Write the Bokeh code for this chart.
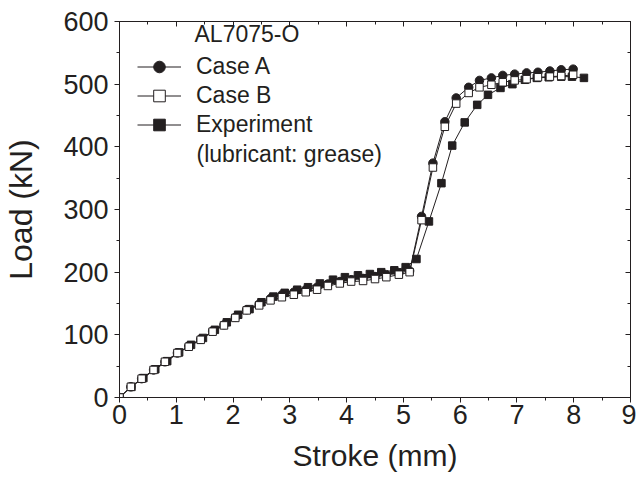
from bokeh.plotting import figure
from bokeh.models import (LinearAxis, Legend, LegendItem, Label, Range1d,
                          ColumnDataSource, SingleIntervalTicker,
                          CustomJSTickFormatter)
from bokeh.embed import file_html
from bokeh.resources import INLINE

FONT = "Liberation Sans"
INK = "#231f20"

# ---- data ----
stroke_sim = [0.00, 0.20, 0.39, 0.60, 0.80, 1.02, 1.22, 1.43, 1.64, 1.84,
              2.04, 2.24, 2.46, 2.66, 2.86, 3.07, 3.28, 3.48, 3.67, 3.88,
              4.08, 4.29, 4.50, 4.70, 4.92, 5.11, 5.32, 5.52, 5.73, 5.93,
              6.15, 6.34, 6.55, 6.75, 6.96, 7.17, 7.37, 7.58, 7.78, 7.99]
load_case_a = [0, 17, 30, 44, 57, 71, 82, 93, 106, 116,
               128, 140, 149, 158, 164, 168, 172, 176, 181, 185,
               188, 190, 193, 196, 199, 202, 289, 374, 440, 478,
               495, 506, 510, 514, 516, 518, 519, 521, 523, 524]
load_case_b = [0, 17, 30, 44, 57, 71, 81, 92, 105, 115,
               127, 139, 147, 155, 160, 164, 168, 172, 178, 182,
               185, 186, 189, 192, 196, 200, 283, 367, 432, 469,
               486, 495, 499, 503, 506, 508, 511, 512, 513, 515]
stroke_exp = [0.00, 0.21, 0.42, 0.63, 0.84, 1.05, 1.26, 1.47, 1.68, 1.89,
              2.09, 2.29, 2.50, 2.71, 2.91, 3.13, 3.32, 3.53, 3.76, 3.97,
              4.20, 4.41, 4.61, 4.84, 5.04, 5.23, 5.45, 5.67, 5.86, 6.08,
              6.30, 6.49, 6.71, 6.92, 7.14, 7.35, 7.56, 7.78, 7.97, 8.18]
load_exp = [0, 17, 31, 45, 58, 72, 84, 95, 108, 120,
            132, 141, 152, 161, 167, 172, 176, 182, 188, 192,
            195, 197, 200, 203, 208, 221, 281, 342, 402, 439,
            467, 483, 494, 500, 507, 510, 511, 512, 512, 510]

legend_title = "AL7075-O"
series_labels = ["Case A", "Case B", "Experiment"]
legend_note = "(lubricant: grease)"
x_title = "Stroke (mm)"
y_title = "Load (kN)"

p = figure(width=636, height=481, x_range=Range1d(0, 9), y_range=Range1d(0, 600),
           output_backend="svg", toolbar_location=None,
           x_axis_type=None, y_axis_type=None,
           min_border_left=118, min_border_right=6, min_border_top=21,
           min_border_bottom=84, outline_line_color=None,
           background_fill_color="white", border_fill_color="white")
p.grid.visible = False


def make_axis(interval, show_labels, title=None):
    ax = LinearAxis(ticker=SingleIntervalTicker(interval=interval, num_minor_ticks=2))
    ax.axis_line_color = INK
    ax.axis_line_width = 1
    ax.major_tick_line_color = INK
    ax.minor_tick_line_color = INK
    if show_labels:
        ax.major_tick_out = 5
        ax.major_tick_in = 0
        ax.minor_tick_out = 3
        ax.minor_tick_in = 0
        ax.major_label_text_font = FONT
        ax.major_label_text_font_size = "27px"
        ax.major_label_text_color = INK
    else:
        ax.major_tick_out = 0
        ax.major_tick_in = 5
        ax.minor_tick_out = 0
        ax.minor_tick_in = 3
        ax.formatter = CustomJSTickFormatter(code="return ''")
        ax.major_label_standoff = 0
    if title:
        ax.axis_label = title
        ax.axis_label_text_font = FONT
        ax.axis_label_text_font_style = "normal"
        ax.axis_label_text_color = INK
    return ax


xb = make_axis(1, True, x_title)
xb.axis_label_text_font_size = "30px"
xb.major_label_standoff = 2
xb.axis_label_standoff = 12
yl = make_axis(100, True, y_title)
yl.axis_label_text_font_size = "32px"
yl.major_label_standoff = 6
yl.axis_label_standoff = 21
xt = make_axis(1, False)
yr = make_axis(100, False)
p.add_layout(xb, "below")
p.add_layout(yl, "left")
p.add_layout(xt, "above")
p.add_layout(yr, "right")

src_a = ColumnDataSource(dict(x=stroke_sim, y=load_case_a))
src_b = ColumnDataSource(dict(x=stroke_sim, y=load_case_b))
src_e = ColumnDataSource(dict(x=stroke_exp, y=load_exp))

le = p.line("x", "y", source=src_e, line_color=INK, line_width=1)
se = p.scatter("x", "y", source=src_e, marker="square", size=7.5,
               fill_color=INK, line_color=INK, line_width=1)
la = p.line("x", "y", source=src_a, line_color=INK, line_width=1)
sa = p.scatter("x", "y", source=src_a, marker="circle", size=8.5,
               fill_color=INK, line_color=INK, line_width=1)
lb = p.line("x", "y", source=src_b, line_color=INK, line_width=1)
sb = p.scatter("x", "y", source=src_b, marker="square", size=7.5,
               fill_color="white", line_color=INK, line_width=1)

legend = Legend(items=[LegendItem(label=series_labels[0], renderers=[la, sa]),
                       LegendItem(label=series_labels[1], renderers=[lb, sb]),
                       LegendItem(label=series_labels[2], renderers=[le, se])],
                location=(18, 258), orientation="vertical",
                padding=0, margin=0, spacing=0,
                label_height=29, glyph_height=29, glyph_width=44,
                label_standoff=15, border_line_color=None,
                background_fill_alpha=0,
                label_text_font=FONT, label_text_font_size="23px",
                label_text_color=INK)
p.add_layout(legend)

p.add_layout(Label(x=75, y=364, x_units="screen", y_units="screen",
                   text=legend_title, text_font=FONT, text_font_size="23px",
                   text_color=INK, text_baseline="middle"))
p.add_layout(Label(x=77, y=244, x_units="screen", y_units="screen",
                   text=legend_note, text_font=FONT, text_font_size="23px",
                   text_color=INK, text_baseline="middle"))

open("out.html", "w").write(file_html(p, INLINE))
